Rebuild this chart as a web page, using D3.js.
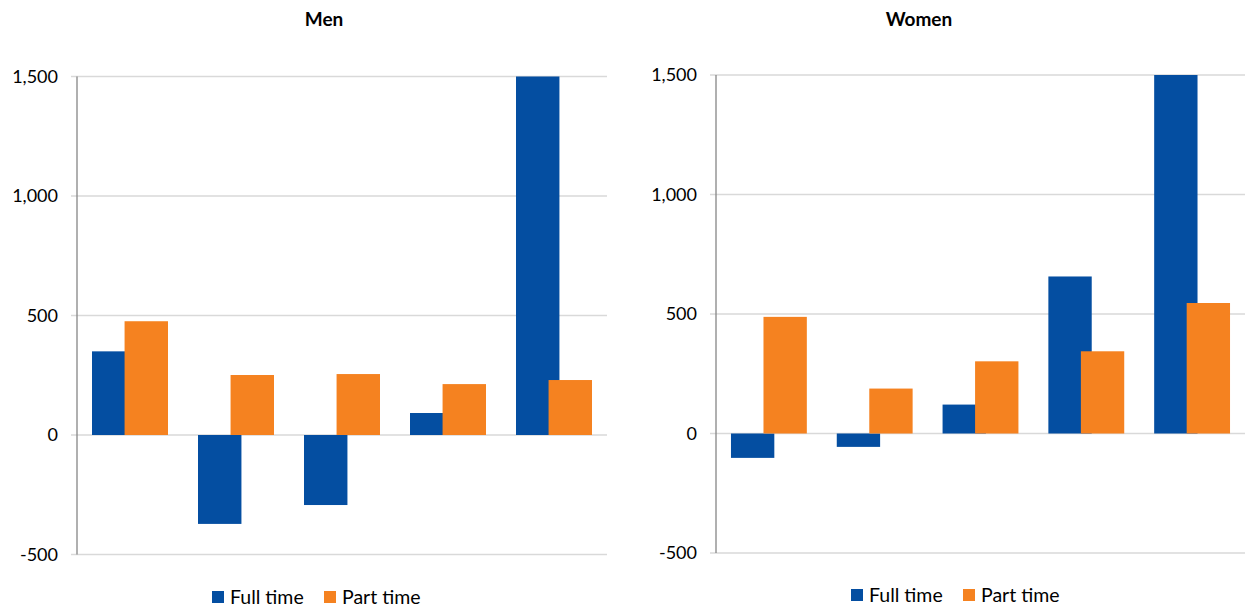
<!DOCTYPE html>
<html><head><meta charset="utf-8">
<script src="https://cdn.jsdelivr.net/npm/d3@7"></script>
<style>body{margin:0;background:#fff}svg{display:block;font-family:Lato,"Open Sans",sans-serif}</style>
</head><body><svg id="c" width="1245" height="608"></svg>
<script>
const categories = ["A","B","C","D","E"];
const seriesNames = ["Full time","Part time"];
const colors = ["#044ea1","#f58220"];
const menFull = [350,-372,-293,92,1500];
const menPart = [476,251,255,213,230];
const womenFull = [-102,-56,121,657,1500];
const womenPart = [488,188,302,344,546];
const yTicks = [-500,0,500,1000,1500];

const svg = d3.select("#c");
const panels = [
  {title:"Men", full:menFull, part:menPart, x0:77, x1:607, yTop:76.5, yBot:554.5, titleX:324, legendX:316, legendY:597},
  {title:"Women", full:womenFull, part:womenPart, x0:716, x1:1245, yTop:75, yBot:553, titleX:919, legendX:955, legendY:595}
];
const fmt = d => d3.format(",")(d).replace("\u2212","-");
panels.forEach(p=>{
  const g = svg.append("g");
  const x = d3.scaleBand().domain(categories).range([p.x0,p.x1]).padding(0);
  const y = d3.scaleLinear().domain([-500,1500]).range([p.yBot,p.yTop]);
  g.selectAll(".grid").data(yTicks).join("line")
    .attr("x1",p.x0-6).attr("x2",p.x1)
    .attr("y1",d=>y(d)).attr("y2",d=>y(d))
    .attr("stroke","#d9d9d9").attr("stroke-width",1.3);
  const groupW = x.bandwidth()*0.717;
  const bw = groupW/1.75;
  const data = categories.map((c,i)=>({c, v:[p.full[i], p.part[i]]}));
  [0,1].forEach(s=>{
    g.selectAll(".b"+s).data(data).join("rect")
      .attr("x",d=>x(d.c)+x.bandwidth()/2-groupW/2+s*0.75*bw)
      .attr("width",bw)
      .attr("y",d=>y(Math.max(0,d.v[s])))
      .attr("height",d=>Math.abs(y(d.v[s])-y(0)))
      .attr("fill",colors[s]);
  });
  g.append("line").attr("x1",p.x0).attr("x2",p.x0).attr("y1",p.yTop).attr("y2",p.yBot)
    .attr("stroke","#868686").attr("stroke-width",1.3);
  g.selectAll(".tl").data(yTicks).join("text")
    .attr("x",p.x0-19).attr("y",d=>y(d)).attr("dy","0.35em")
    .attr("text-anchor","end").attr("font-size",18).attr("fill","#000")
    .text(d=>fmt(d));
  g.append("text").attr("x",p.titleX).attr("y",26).attr("text-anchor","middle")
    .attr("font-size",19).attr("font-weight","bold").attr("fill","#000").text(p.title);
  const lg = g.append("g");
  const items = [{n:seriesNames[0],c:colors[0],dx:-104},{n:seriesNames[1],c:colors[1],dx:8}];
  items.forEach(it=>{
    lg.append("rect").attr("x",p.legendX+it.dx).attr("y",p.legendY-6).attr("width",12).attr("height",12).attr("fill",it.c);
    lg.append("text").attr("x",p.legendX+it.dx+18).attr("y",p.legendY).attr("dy","0.35em")
      .attr("font-size",19.5).attr("fill","#000").text(it.n);
  });
});
</script></body></html>
